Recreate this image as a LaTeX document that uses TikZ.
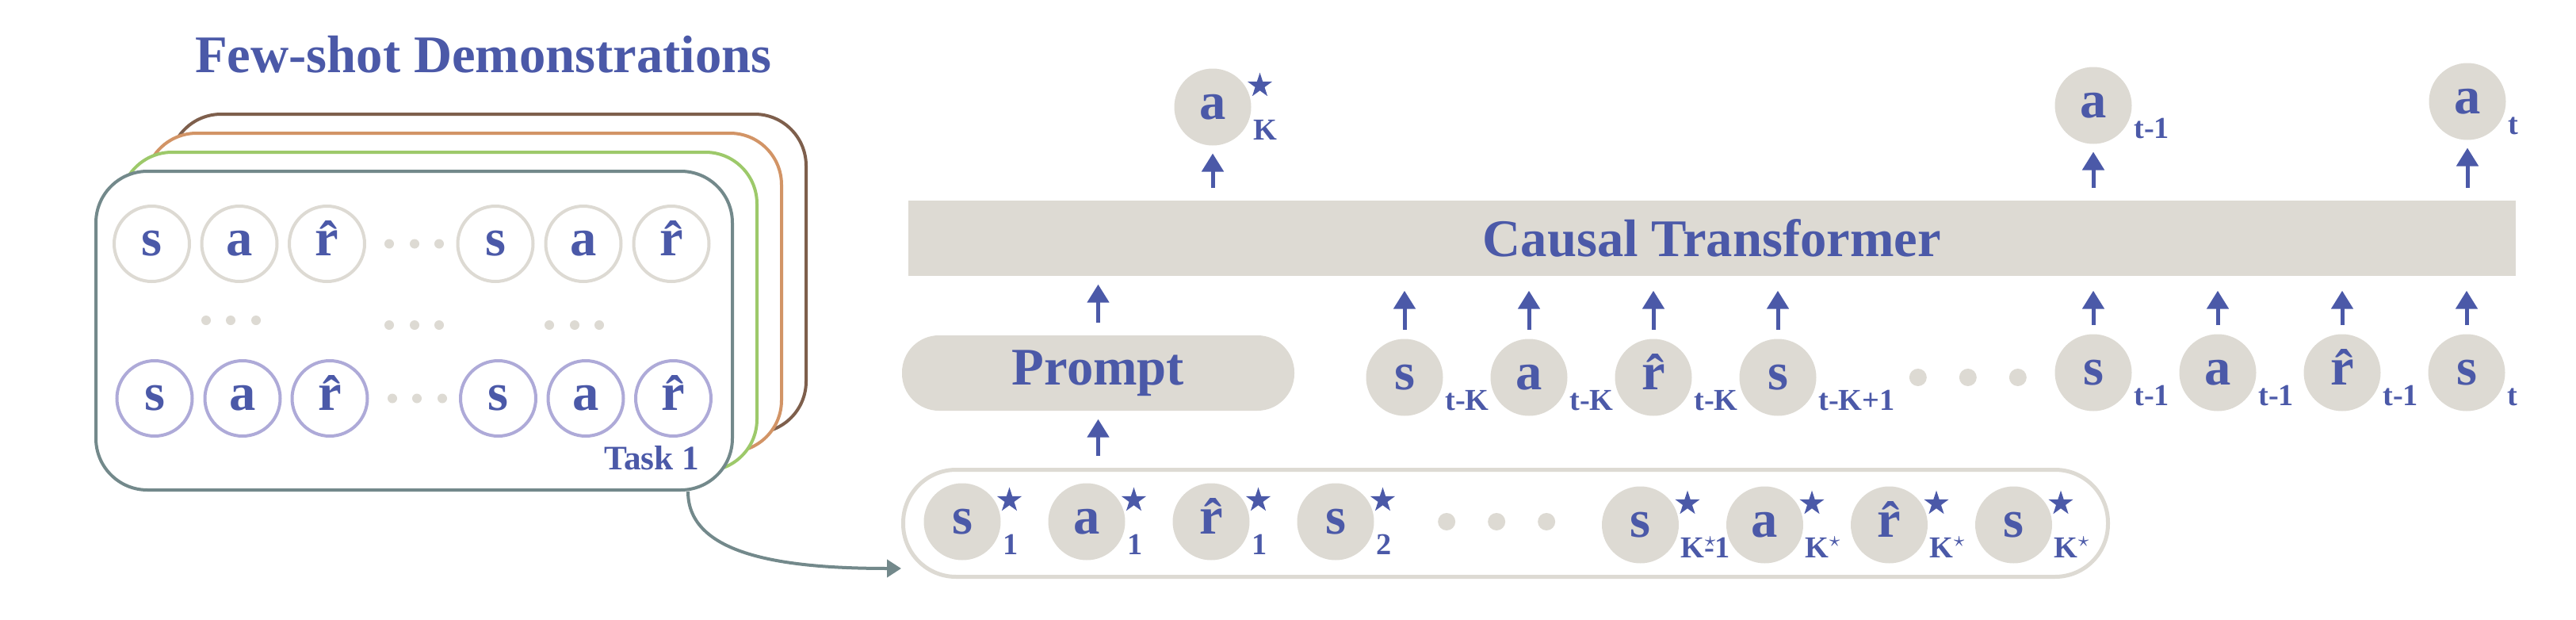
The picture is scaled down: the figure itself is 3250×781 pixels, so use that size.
\documentclass[tikz,border=0pt]{standalone}
\usepackage{fontspec}
\setmainfont{Liberation Serif}
\usetikzlibrary{positioning,calc,arrows.meta,shapes.geometric}
\definecolor{dtblue}{RGB}{75,89,168}
\definecolor{tokgray}{RGB}{221,218,211}
\definecolor{lilac}{RGB}{174,170,216}
\definecolor{slate}{RGB}{115,137,139}
\definecolor{leaf}{RGB}{157,201,106}
\definecolor{clay}{RGB}{210,148,102}
\definecolor{bark}{RGB}{126,95,76}
\newcommand\rhat{\^{r}}
\tikzset{
>={Triangle[length=6.9pt,width=8.1pt]},
  bigtext/.style={font=\fontsize{20}{24}\selectfont\bfseries, text=dtblue},
  subtext/.style={font=\fontsize{11.5}{13}\selectfont\bfseries, text=dtblue, inner sep=0pt},
  token/.style={
    circle, bigtext,
    fill=tokgray,
    minimum size=29.1pt,
    inner sep=0pt, outer sep=0pt,
    text height=9.2pt, text depth=0pt},
  demotoken/.style={
    circle, bigtext,
    draw=#1, line width=1.2pt,
    minimum size=28.5pt,
    inner sep=0pt,
    text height=9.2pt, text depth=0pt},
  gapdot/.style={circle, fill=tokgray, minimum size=6.6pt, inner sep=0pt, outer sep=0pt},
  smalldot/.style={circle, fill=tokgray, minimum size=3.6pt, inner sep=0pt},
  lowtext/.style={label={[subtext, anchor=base west, xshift=4.9pt, yshift=-2.2pt]-45:#1}},
  starmark/.style={star, star points=5, star point ratio=2.6, fill=dtblue, inner sep=0pt, minimum size=9.8pt},
  starred/.style={label={[starmark, anchor=center, xshift=3.3pt, yshift=8.1pt]0:{}}},
  taskbox/.style={
    rectangle, rounded corners=19.5pt,
    draw=#1, line width=1.2pt, fill=white,
    minimum width=240.9pt, minimum height=120.6pt},
  upin/.style={->, draw=dtblue, line width=1.5pt, shorten <=3.6pt, shorten >=5.4pt},
  upout/.style={->, draw=dtblue, line width=1.5pt, shorten <=4.5pt, shorten >=3pt}
}
\begin{document}
\begin{tikzpicture}[x=0.3pt, y=0.3pt, node distance=18pt]
  \useasboundingbox (0,0) rectangle (3250,781);

  % few-shot demonstrations, one box per task
  \node[bigtext, anchor=base] (title) at (610,689) {Few-shot Demonstrations};
  \node[taskbox=bark] (task4) at (615.5,436) {};
  \node[taskbox=clay] (task3) at (584.5,412) {};
  \node[taskbox=leaf] (task2) at (553.5,388) {};
  \node[taskbox=slate] (task1) at (522.5,364) {};
  \node[subtext, font=\fontsize{13}{15}\selectfont\bfseries, anchor=base east] (tasklabel) at (883,189) {Task 1};

  \foreach \x/\lt [count=\i] in {191.5/s,302/a,412.5/\rhat,625/s,736/a,847/\rhat}
    \node[demotoken=tokgray] (top\i) at (\x,473.5) {\lt};
  \foreach \x/\lt [count=\i] in {195/s,306/a,416/\rhat,628.5/s,739/a,849.5/\rhat}
    \node[demotoken=lilac] (bot\i) at (\x,278.5) {\lt};
  \foreach \x/\y [count=\i] in {491/473.5,523/473.5,554/473.5,
      260/377,291/377,323/377,491/371,523/371,554/371,693/371,725/371,756/371,
      495/278.5,526/278.5,558/278.5}
    \node[smalldot] (skip\i) at (\x,\y) {};

  % transformer with prompt
  \node[rectangle, fill=tokgray, minimum width=608.4pt, minimum height=28.5pt, bigtext] (ct) at (2160,480.5) {Causal Transformer};
  \node[rectangle, rounded corners=14pt, fill=tokgray, minimum width=148.5pt, minimum height=28.5pt, bigtext] (prompt) at (1385.5,310.5) {Prompt};
  \node[rectangle, rounded corners=20pt, draw=tokgray, line width=1.5pt, minimum width=456pt, minimum height=40.5pt] (demo) at (1899.5,121) {};

  \node[token, lowtext=t-K] (sK) at (1772,305) {s};
  \node[token, lowtext=t-K, right=of sK] (aK) {a};
  \node[token, lowtext=t-K, right=of aK] (rK) {\rhat};
  \node[token, lowtext=t-K+1, right=of rK] (sK1) {s};
  \node[gapdot, right=35.2pt of sK1] (gap1) {};
  \node[gapdot, right=12.3pt of gap1] (gap2) {};
  \node[gapdot, right=12.3pt of gap2] (gap3) {};
  \node[token, lowtext=t-1] (sT1) at (2641,311) {s};
  \node[token, lowtext=t-1, right=of sT1] (aT1) {a};
  \node[token, lowtext=t-1, right=of aT1] (rT1) {\rhat};
  \node[token, lowtext=t, right=of rT1] (sT) {s};

  \node[token, lowtext=K, starred] (outK) at (1530,646) {a};
  \node[token, lowtext=t-1] (outT1) at (2641,648) {a};
  \node[token, lowtext=t] (outT) at (3113,653) {a};

  \node[token, lowtext=1, starred] (d1) at (1214,123) {s};
  \node[token, lowtext=1, starred, right=of d1] (d2) {a};
  \node[token, lowtext=1, starred, right=of d2] (d3) {\rhat};
  \node[token, lowtext=2, starred, right=of d3] (d4) {s};
  \node[gapdot, right=24.2pt of d4] (gap4) {};
  \node[gapdot, right=12.3pt of gap4] (gap5) {};
  \node[gapdot, right=12.3pt of gap5] (gap6) {};
  \node[token, lowtext=K\rlap{$^\star$}-1, starred] (d5) at (2069.5,119) {s};
  \node[token, lowtext=K$^\star$, starred, right=of d5] (d6) {a};
  \node[token, lowtext=K$^\star$, starred, right=of d6] (d7) {\rhat};
  \node[token, lowtext=K$^\star$, starred, right=of d7] (d8) {s};

  \draw[upout] (demo.north -| prompt) -- (prompt.south);
  \draw[upout] (prompt.north) -- (prompt.north |- ct.south);
  \foreach \n in {sK,aK,rK,sK1,sT1,aT1,rT1,sT}
    \draw[upin] (\n.north) -- (\n.north |- ct.south);
  \foreach \n in {outK,outT1,outT}
    \draw[upout] (\n.south |- ct.north) -- (\n.south);

  \draw[slate, line width=1.2pt, -{Triangle[length=5.4pt,width=6.6pt]}]
    ([xshift=-17.4pt]task1.south east) .. controls +(0,-80) and +(-150,0) .. ([yshift=3.9pt]demo.south west);
\end{tikzpicture}
\end{document}
